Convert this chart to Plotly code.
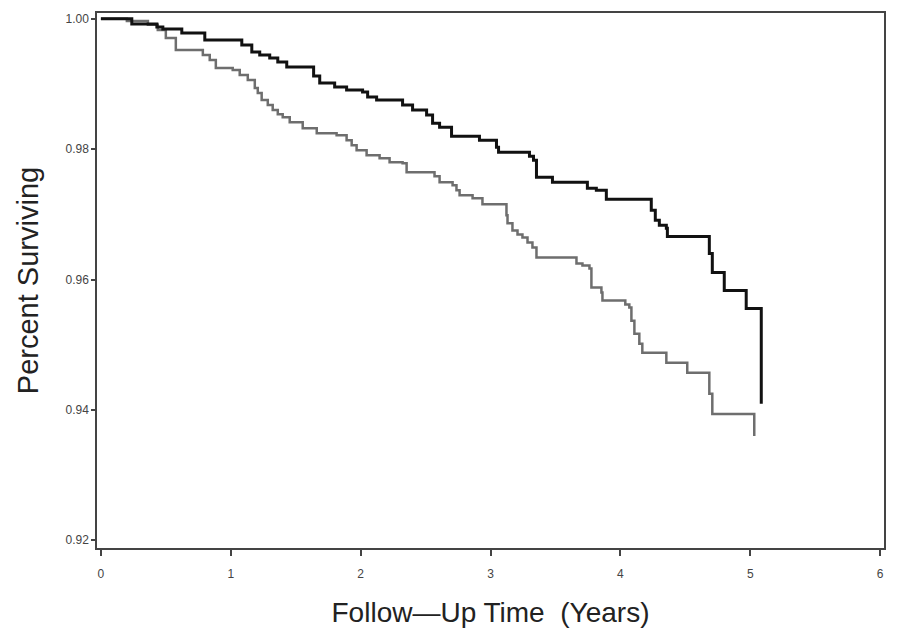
import plotly.graph_objects as go

# Kaplan-Meier style survival estimates
black_time = [0, 0.238, 0.431, 0.477, 0.623, 0.800, 1.085, 1.162, 1.223, 1.300,
              1.362, 1.431, 1.638, 1.685, 1.800, 1.892, 2.015, 2.054, 2.123, 2.323,
              2.400, 2.508, 2.554, 2.608, 2.700, 2.915, 3.046, 3.062, 3.300, 3.331,
              3.354, 3.477, 3.746, 3.815, 3.892, 4.238, 4.269, 4.300, 4.354, 4.362,
              4.685, 4.708, 4.800, 4.969, 5.085]
black_surv = [1.0, 0.99923, 0.99877, 0.99846, 0.99785, 0.99677, 0.99600, 0.99492, 0.99446, 0.99400,
              0.99338, 0.99262, 0.99123, 0.99015, 0.98954, 0.98908, 0.98877, 0.98800, 0.98754, 0.98677,
              0.98600, 0.98523, 0.98400, 0.98338, 0.98200, 0.98138, 0.98031, 0.97954, 0.97892, 0.97831,
              0.97569, 0.97492, 0.97400, 0.97369, 0.97231, 0.97062, 0.96908, 0.96831, 0.96785, 0.96662,
              0.96400, 0.96108, 0.95831, 0.95554, 0.94092]

gray_time = [0, 0.200, 0.362, 0.438, 0.500, 0.577, 0.785, 0.838, 0.885, 1.015,
             1.069, 1.131, 1.185, 1.208, 1.238, 1.285, 1.323, 1.362, 1.400, 1.454,
             1.554, 1.662, 1.815, 1.892, 1.931, 1.969, 2.046, 2.146, 2.223, 2.323,
             2.354, 2.569, 2.608, 2.708, 2.738, 2.762, 2.862, 2.938, 3.123, 3.131,
             3.169, 3.208, 3.246, 3.285, 3.323, 3.354, 3.662, 3.708, 3.762, 3.777,
             3.854, 3.862, 4.038, 4.069, 4.085, 4.108, 4.146, 4.169, 4.354, 4.515,
             4.685, 4.708, 5.031]
gray_surv = [1.0, 0.99969, 0.99908, 0.99831, 0.99708, 0.99523, 0.99446, 0.99369, 0.99246, 0.99215,
             0.99138, 0.99062, 0.98938, 0.98862, 0.98754, 0.98677, 0.98600, 0.98538, 0.98492, 0.98415,
             0.98323, 0.98246, 0.98215, 0.98138, 0.98062, 0.97985, 0.97908, 0.97862, 0.97800, 0.97785,
             0.97646, 0.97585, 0.97492, 0.97446, 0.97369, 0.97292, 0.97246, 0.97154, 0.96985, 0.96862,
             0.96754, 0.96692, 0.96646, 0.96569, 0.96492, 0.96338, 0.96246, 0.96215, 0.96169, 0.95877,
             0.95800, 0.95677, 0.95615, 0.95569, 0.95369, 0.95169, 0.95015, 0.94877, 0.94723, 0.94569,
             0.94246, 0.93938, 0.93600]

x_ticks = [0, 1, 2, 3, 4, 5, 6]
y_ticks = [0.92, 0.94, 0.96, 0.98, 1.00]
y_labels = ["0.92", "0.94", "0.96", "0.98", "1.00"]

fig = go.Figure()
fig.add_trace(go.Scatter(x=gray_time, y=gray_surv, mode="lines", line_shape="hv",
                         line=dict(color="#6e6e6e", width=2.5), showlegend=False))
fig.add_trace(go.Scatter(x=black_time, y=black_surv, mode="lines", line_shape="hv",
                         line=dict(color="#111111", width=3), showlegend=False))

axis_font = dict(family="Liberation Sans, Arial", size=12, color="#444444")
# the page body has an 8px margin, so the figure is sized a little smaller
fig.update_layout(
    width=882, height=628,
    margin=dict(l=89, r=6, t=5, b=88, autoexpand=False),
    plot_bgcolor="white", paper_bgcolor="white",
    font=dict(family="Liberation Sans, Arial", color="#222222"),
)
fig.update_xaxes(
    range=[-0.03, 6.03], tickmode="array", tickvals=x_ticks,
    ticks="outside", ticklen=6, tickcolor="#444444", tickwidth=1.5,
    ticklabelstandoff=8,
    showline=True, linecolor="#444444", linewidth=1.5, mirror=True,
    showgrid=False, zeroline=False, tickfont=axis_font, automargin=False,
    title=dict(text="Follow\u2014Up Time\u00a0 (Years)", font=dict(size=28, color="#222222"), standoff=22),
)
fig.update_yaxes(
    range=[0.9188, 1.0009], tickmode="array", tickvals=y_ticks, ticktext=y_labels,
    ticks="outside", ticklen=4, tickcolor="#444444", tickwidth=1.5,
    showline=True, linecolor="#444444", linewidth=1.5, mirror=True,
    showgrid=False, zeroline=False, tickfont=axis_font, automargin=False,
    title=dict(text="Percent Surviving", font=dict(size=29, color="#222222"), standoff=18),
)

fig.write_html("out.html")
